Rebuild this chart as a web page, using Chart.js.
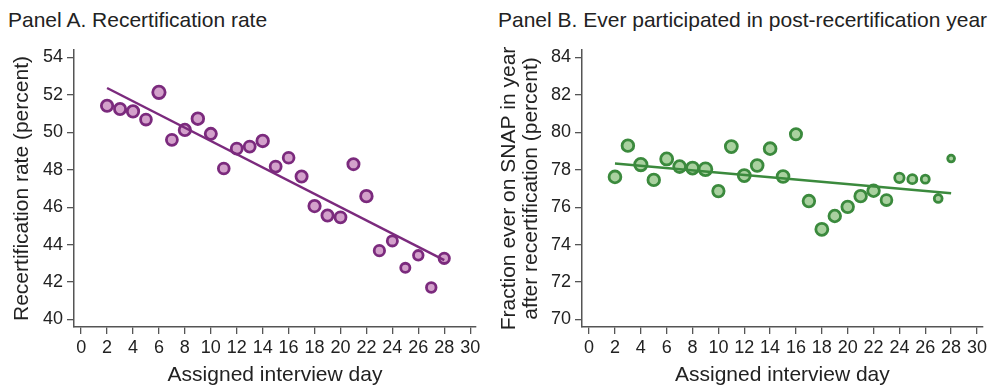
<!DOCTYPE html>
<html>
<head>
<meta charset="utf-8">
<script src="https://cdn.jsdelivr.net/npm/chart.js@4"></script>
<style>
  body { margin: 0; background: #fff; }
  #wrap { position: relative; width: 992px; height: 386px; font-family: "Liberation Sans", Arial, sans-serif; color: #222; }
  .ptitle { position: absolute; top: 8px; font-size: 21px; white-space: nowrap; }
  canvas { position: absolute; top: 0; }
</style>
</head>
<body>
<div id="wrap">
  <div class="ptitle" style="left:8px">Panel A. Recertification rate</div>
  <div class="ptitle" style="left:498px">Panel B. Ever participated in post-recertification year</div>
  <canvas id="chartA" width="500" height="386" style="left:0"></canvas>
  <canvas id="chartB" width="496" height="386" style="left:496px"></canvas>
</div>
<script>
const days = [2, 3, 4, 5, 6, 7, 8, 9, 10, 11, 12, 13, 14, 15, 16, 17, 18, 19, 20, 21, 22, 23, 24, 25, 26, 27, 28];

// Panel A: recertification rate (percent)
const recertRate = [51.42, 51.25, 51.12, 50.68, 52.14, 49.6, 50.13, 50.73, 49.92, 48.07, 49.13, 49.24, 49.54,
  48.17, 48.64, 47.64, 46.06, 45.56, 45.46, 48.3, 46.59, 43.68, 44.2, 42.76, 43.43, 41.71, 43.27];
// relative cell size (marker radius)
const weightA = [5.5, 5.4, 5.5, 5.2, 6, 5.3, 5.5, 5.6, 5.4, 5.2, 5.3, 5.3, 5.6, 5.3, 5.2, 5.4, 5.5, 5.4, 5.3, 5.4, 5.6,
  5, 4.9, 4.4, 4.6, 4.6, 5];
const fitDays = [2, 28];
const fitA = [52.37, 43.17];

// Panel B: ever on SNAP in year after recertification (percent)
const everSnap = [77.62, 79.29, 78.28, 77.46, 78.58, 78.17, 78.09, 78.03, 76.86, 79.24, 77.69, 78.23, 79.13,
  77.64, 79.9, 76.33, 74.82, 75.53, 76.02, 76.59, 76.88, 76.38, 77.57, 77.5, 77.5, 76.47, 78.6];
const weightB = [5.7, 5.6, 6, 5.6, 5.8, 5.7, 5.8, 6.2, 5.5, 5.8, 5.8, 5.7, 5.7, 5.7, 5.4, 5.6, 5.8, 5.6, 5.6, 5.6, 5.6,
  5.2, 4.5, 4.3, 3.8, 3.7, 3.2];
const fitB = [78.33, 76.74];

const xTicks = [0, 2, 4, 6, 8, 10, 12, 14, 16, 18, 20, 22, 24, 26, 28, 30];

const axisColor = "#555";
const textColor = "#222";
const fontFamily = "'Liberation Sans', Arial, sans-serif";

function makePanel(id, values, sizes, fit, yMin, yMax, yTitle, fill, stroke, leftWidth, titlePad) {
  const pts = days.map((d, i) => ({ x: d, y: values[i] }));
  const line = fitDays.map((d, i) => ({ x: d, y: fit[i] }));
  return new Chart(document.getElementById(id), {
    type: "scatter",
    data: {
      datasets: [
        {
          data: pts,
          pointRadius: sizes.map(r => r + 0.2),
          pointBackgroundColor: fill,
          pointBorderColor: stroke,
          pointBorderWidth: 2.8,
          order: 2
        },
        {
          type: "line",
          data: line,
          borderColor: stroke,
          borderWidth: 2.5,
          pointRadius: 0,
          fill: false,
          order: 1
        }
      ]
    },
    options: {
      responsive: false,
      animation: false,
      events: [],
      layout: { padding: { left: 0, right: id === "chartA" ? 24 : 7, top: 50, bottom: 0 } },
      plugins: { legend: { display: false }, tooltip: { enabled: false } },
      scales: {
        x: {
          type: "linear",
          min: -0.55,
          max: 30.45,
          afterBuildTicks: s => { s.ticks = xTicks.map(v => ({ value: v })); },
          afterFit: s => { s.height = 59; },
          grid: { display: true, drawOnChartArea: false, drawTicks: true, tickLength: 7, color: axisColor, lineWidth: 1.3 },
          border: { display: true, color: axisColor, width: 1.5 },
          ticks: { color: textColor, font: { family: fontFamily, size: 18 }, padding: 3, maxRotation: 0, autoSkip: false },
          title: {
            display: true, text: "Assigned interview day", color: textColor,
            font: { family: fontFamily, size: 21, lineHeight: 1.05 }, padding: { top: 0, bottom: 0 }
          }
        },
        y: {
          min: yMin,
          max: yMax,
          afterBuildTicks: s => {
            const t = [];
            for (let v = Math.ceil(yMin / 2) * 2; v <= yMax; v += 2) t.push({ value: v });
            s.ticks = t;
          },
          afterFit: s => { s.width = leftWidth; },
          grid: { display: true, drawOnChartArea: false, drawTicks: true, tickLength: 7, color: axisColor, lineWidth: 1.3 },
          border: { display: true, color: axisColor, width: 1.5 },
          ticks: { color: textColor, font: { family: fontFamily, size: 18 }, padding: 4 },
          title: {
            display: true, text: yTitle, color: textColor,
            font: { family: fontFamily, size: 21, lineHeight: 1.05 }, padding: { top: titlePad, bottom: 0 }
          }
        }
      }
    }
  });
}

makePanel("chartA", recertRate, weightA, fitA, 39.6, 54.4, "Recertification rate (percent)",
  "#d3a1cb", "#7b2a7d", 74, 11);
makePanel("chartB", everSnap, weightB, fitB, 69.6, 84.4,
  ["Fraction ever on SNAP in year", "after recertification (percent)"],
  "#a9d19f", "#3b8a3d", 86, 2);
</script>
</body>
</html>
